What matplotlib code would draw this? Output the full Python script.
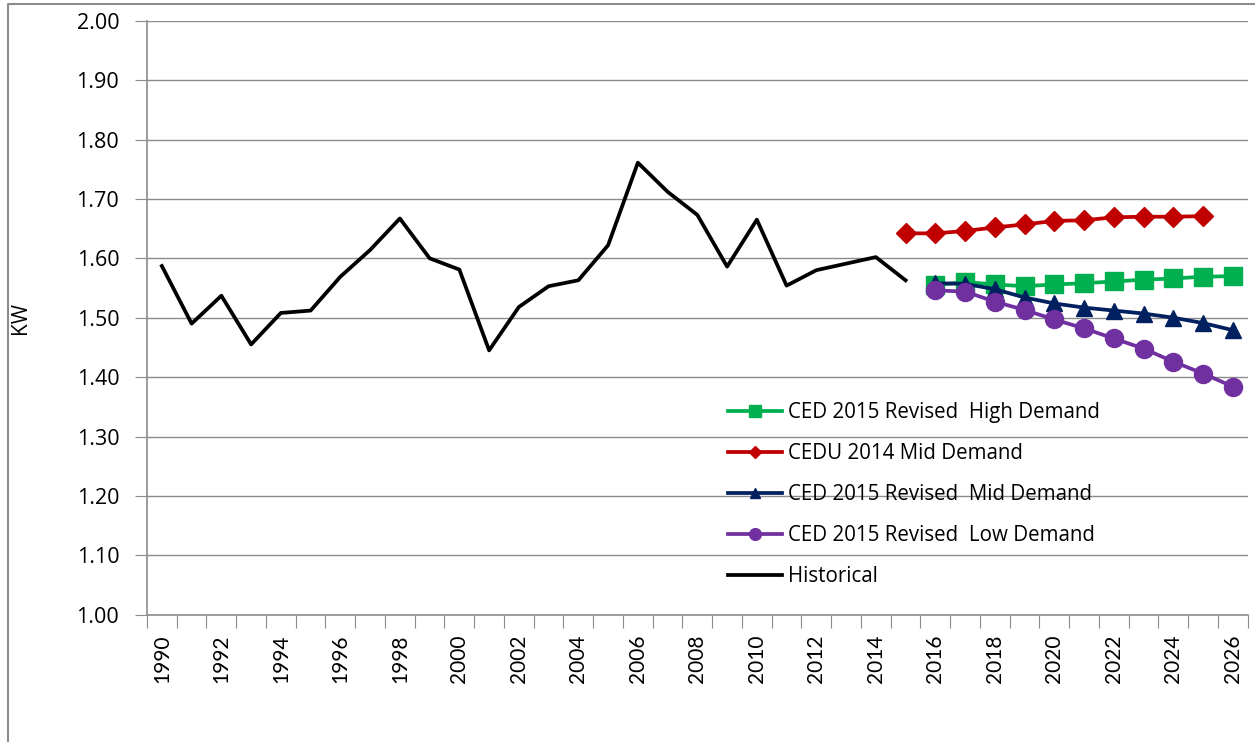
import numpy as np
import matplotlib.pyplot as plt
from matplotlib.lines import Line2D

years = list(range(1990, 2027))

hist_years = list(range(1990, 2016))
historical = [1.587, 1.490, 1.537, 1.455, 1.508, 1.512, 1.569, 1.614, 1.667, 1.600,
              1.581, 1.445, 1.518, 1.553, 1.563, 1.622, 1.761, 1.712, 1.673, 1.586,
              1.665, 1.554, 1.580, 1.591, 1.602, 1.563]

cedu_years = list(range(2015, 2026))
cedu_mid = [1.642, 1.642, 1.646, 1.652, 1.657, 1.663, 1.664, 1.669, 1.670, 1.670, 1.671]

ced_years = list(range(2016, 2027))
ced_high = [1.555, 1.560, 1.556, 1.553, 1.556, 1.558, 1.561, 1.564, 1.566, 1.569, 1.570]
ced_mid = [1.558, 1.557, 1.548, 1.534, 1.524, 1.517, 1.512, 1.507, 1.500, 1.491, 1.479]
ced_low = [1.546, 1.544, 1.527, 1.513, 1.497, 1.482, 1.465, 1.448, 1.426, 1.406, 1.384]

font = ['Open Sans', 'DejaVu Sans']
plt.rcParams['font.family'] = font

W, H = 1255, 742
fig = plt.figure(figsize=(W / 100, H / 100), dpi=100)
ax = fig.add_axes([147 / W, 1 - 614.7 / H, (1247.7 - 147) / W, (614.7 - 20.7) / H])

def pos(yrs):
    return [years.index(y) for y in yrs]

lw = 2.7
ax.plot(pos(ced_years), ced_high, color='#00B050', lw=lw, marker='s', ms=13,
        label='CED 2015 Revised  High Demand', zorder=3)
ax.plot(pos(cedu_years), cedu_mid, color='#C00000', lw=lw, marker='D', ms=10,
        label='CEDU 2014 Mid Demand', zorder=3)
ax.plot(pos(ced_years), ced_mid, color='#002060', lw=lw, marker='^', ms=12,
        label='CED 2015 Revised  Mid Demand', zorder=3)
ax.plot(pos(ced_years), ced_low, color='#7030A0', lw=lw, marker='o', ms=13,
        label='CED 2015 Revised  Low Demand', zorder=3)
ax.plot(pos(hist_years), historical, color='black', lw=lw, label='Historical', zorder=3)

ax.set_xlim(-0.5, len(years) - 0.5)
ax.set_ylim(1.0, 2.0)
ax.set_yticks(np.arange(1.0, 2.001, 0.1))
ax.set_yticklabels(['%.2f' % v for v in np.arange(1.0, 2.001, 0.1)], fontsize=15.5)
ax.yaxis.grid(True, color='#8C8C8C', lw=1)
ax.set_axisbelow(True)

ax.set_xticks(np.arange(-0.5, len(years), 1.0))
ax.set_xticklabels([])
ax.set_xticks(range(0, len(years), 2), minor=True)
ax.set_xticklabels([str(y) for y in years[::2]], minor=True, rotation=90,
                   fontsize=15, family=['Liberation Sans Narrow', 'Lato', 'DejaVu Sans'])
ax.tick_params(axis='x', which='major', length=9, color='#8C8C8C', direction='out')
ax.tick_params(axis='x', which='minor', length=0, pad=14)
ax.tick_params(axis='y', length=9, color='#8C8C8C', pad=11)

for s in ['top', 'right']:
    ax.spines[s].set_visible(False)
for s in ['left', 'bottom']:
    ax.spines[s].set_color('#8C8C8C')
    ax.spines[s].set_linewidth(1.2)

ax.set_ylabel('KW', fontsize=15)
ax.yaxis.set_label_coords((31 - 147) / 1100.7, 0.5)

ax.legend(loc='upper left', bbox_to_anchor=((728 - 147) / 1100.7, (614.7 - 402) / 594),
          frameon=False, fontsize=14.8, handlelength=2.65, handletextpad=0.28,
          labelspacing=0.97, borderpad=0, borderaxespad=0, markerscale=0.65)

# outer chart frame
fig.add_artist(Line2D([8 / W, 8 / W, 1.0], [0.0, 1 - 4 / H, 1 - 4 / H],
                      transform=fig.transFigure, color='#8C8C8C', lw=1.5))

fig.savefig('out.png', dpi=100)
